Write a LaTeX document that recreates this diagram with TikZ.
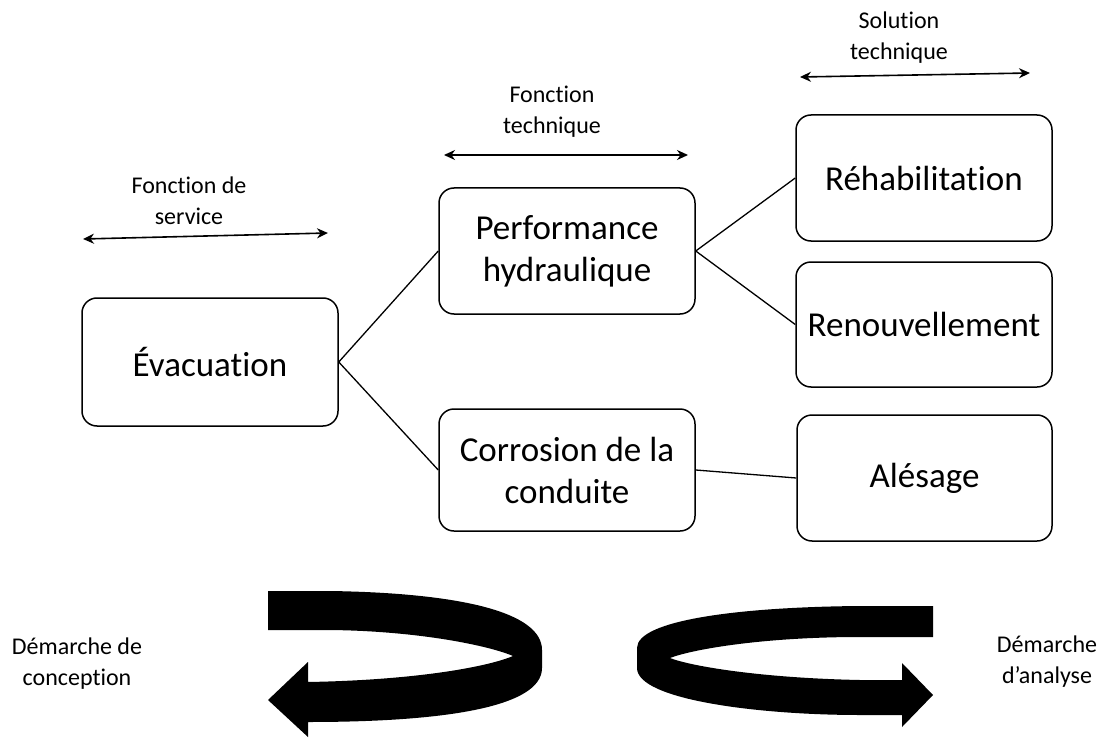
\documentclass[tikz,border=0pt]{standalone}
\usepackage{fontspec}
\setmainfont{Carlito}[Ligatures={NoCommon},RawFeature=-liga,RawFeature=-calt,RawFeature=-clig]
\usetikzlibrary{arrows.meta}
\tikzset{
  block/.style={draw, line width=1.5pt, rounded corners=15pt, minimum width=256pt,
    minimum height=126pt, inner sep=0pt, align=center,
    font=\fontsize{35}{42}\selectfont},
  label/.style={inner sep=0pt, align=center, font=\fontsize{24}{31}\selectfont},
  link/.style={line width=1.3pt},
  span/.style={line width=1.6pt, {Stealth[length=11pt,width=10pt]}-{Stealth[length=11pt,width=10pt]}},
  turn/.style={fill=black, draw=none}
}
\begin{document}
\begin{tikzpicture}[x=1pt,y=-1pt]
\useasboundingbox (0,0) rectangle (1097,738);

% boxes
\node[block] (evac) at (210,362) [minimum height=128pt] {Évacuation};
\node[block] (perf) at (567,251) {Performance\\hydraulique};
\node[block] (corr) at (567,470) [minimum height=122pt] {Corrosion de la\\conduite};
\node[block] (rehab) at (924,178) {Réhabilitation};
\node[block] (renouv) at (924,324.5) [minimum height=125pt] {Renouvellement};
\node[block] (ales) at (924.5,478) [minimum width=255pt] {Alésage};

% tree links
\draw[link] (evac.east) -- (perf.west);
\draw[link] (evac.east) -- (corr.west);
\draw[link] (perf.east) -- (rehab.west);
\draw[link] (perf.east) -- (renouv.west);
\draw[link] (corr.east) -- (ales.west);

% column headings
\node[label] (lserv) at (189,201) {Fonction de\\service};
\node[label] (ltech) at (552,112) {Fonction\\technique};
\node[label] (lsol) at (899,38) {Solution\\technique};

\coordinate (s1) at (83,239);
\coordinate (s2) at (328,233);
\coordinate (t1) at (444,155);
\coordinate (t2) at (688,155);
\coordinate (u1) at (800,77);
\coordinate (u2) at (1030,73);
\draw[span] (s1) -- (s2);
\draw[span] (t1) -- (t2);
\draw[span] (u1) -- (u2);

% process labels
\node[label] (lconc) at (77,664) {Démarche de\\conception};
\node[label] (lanal) at (1047,662) {Démarche\\d’analyse};

% design loop (turning back to the left)
\fill[turn] (268,591) -- (330,591)
  .. controls (460,593) and (542,612) .. (542,650)
  -- (542,668)
  .. controls (542,708) and (440,722) .. (308,722)
  -- (308,737) -- (268,700) -- (308,662) -- (308,682)
  .. controls (420,680) and (490,666) .. (513,656)
  .. controls (490,646) and (420,631) .. (330,630)
  -- (268,630) -- cycle;

% analysis loop (turning back to the right)
\fill[turn] (933,606) -- (860,606)
  .. controls (740,607) and (637,620) .. (637,648)
  -- (637,668)
  .. controls (637,700) and (760,715) .. (860,715)
  -- (902,715) -- (902,727) -- (933,695) -- (902,663) -- (902,680)
  -- (860,680)
  .. controls (760,678) and (690,666) .. (670,658)
  .. controls (690,650) and (760,637) .. (860,637)
  -- (933,637) -- cycle;
\end{tikzpicture}
\end{document}
